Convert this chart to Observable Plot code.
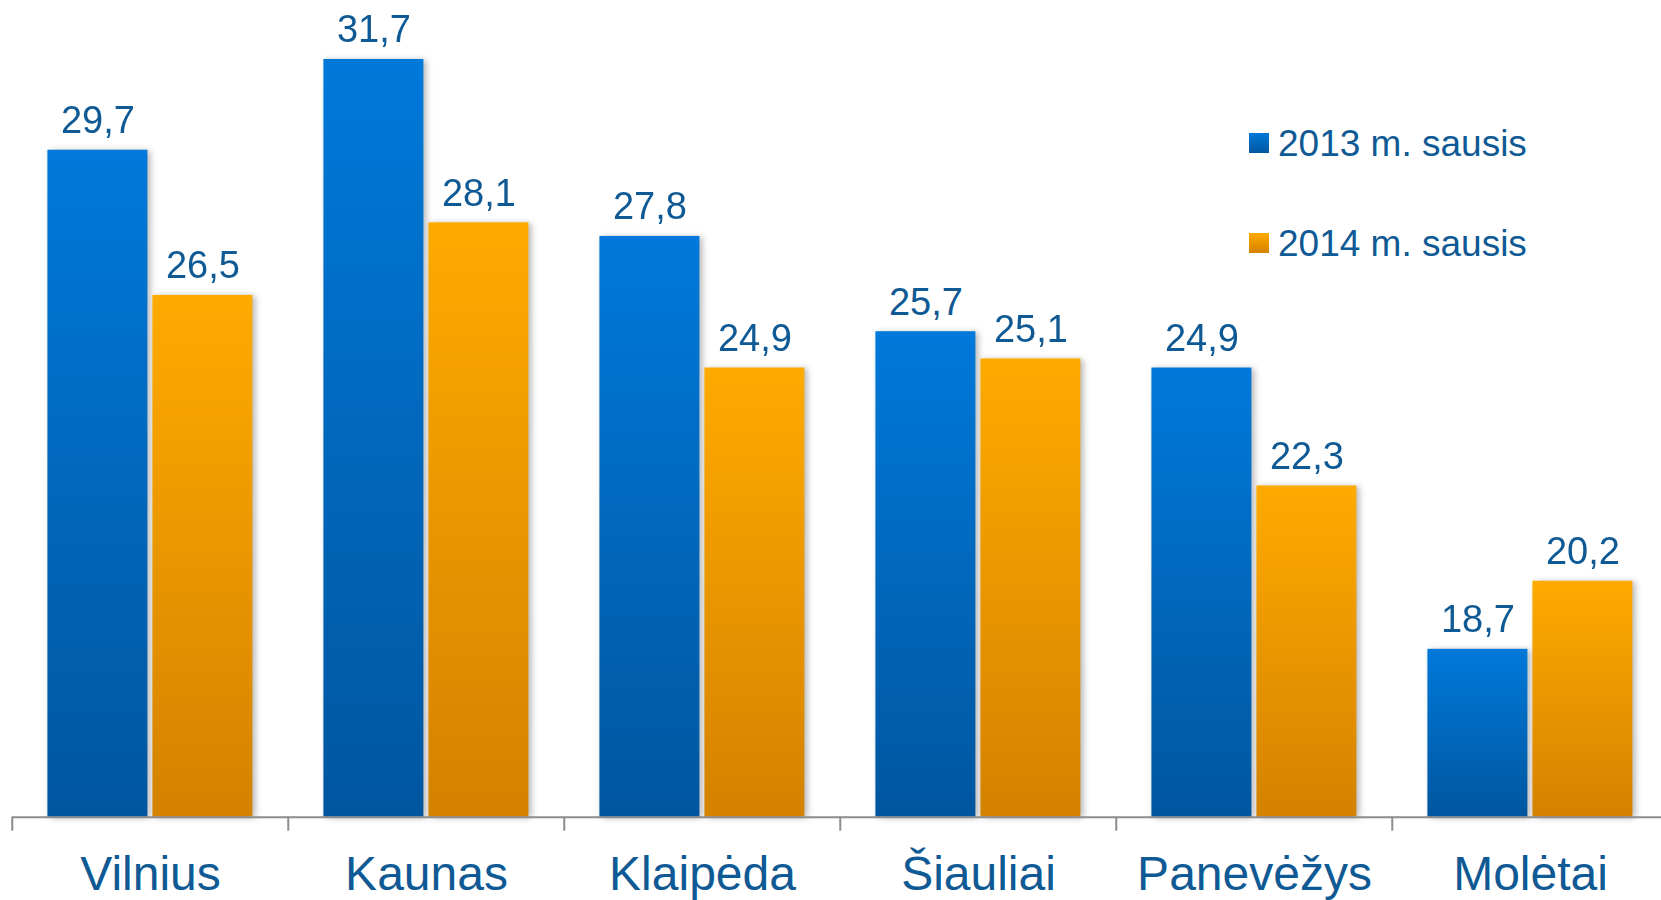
<!DOCTYPE html>
<html>
<head>
<meta charset="utf-8">
<script src="https://cdn.jsdelivr.net/npm/d3@7"></script>
<script src="https://cdn.jsdelivr.net/npm/@observablehq/plot@0.6"></script>
<style>
  html, body { margin: 0; padding: 0; background: #fff; overflow: hidden; }
  #wrap { position: relative; width: 1661px; height: 900px; overflow: hidden; font-family: "Liberation Sans", Arial, sans-serif; }
  #wrap svg { max-width: none !important; display: block; }
  #wrap svg g[aria-label="bar"] { filter: drop-shadow(3px 1px 3px rgba(0,0,0,0.28)); }
  .legend { position: absolute; left: 1249px; top: 0; color: #0f5a94; font-size: 37px; line-height: 1; }
  .legend .row { position: absolute; left: 0; display: flex; align-items: center; white-space: nowrap; }
  .legend .sw { width: 20px; height: 20px; margin-right: 9px; }
</style>
</head>
<body>
<div id="wrap"></div>
<script>
const cities = ["Vilnius", "Kaunas", "Klaipėda", "Šiauliai", "Panevėžys", "Molėtai"];
const years = ["2013 m. sausis", "2014 m. sausis"];
const values2013 = [29.7, 31.7, 27.8, 25.7, 24.9, 18.7];
const values2014 = [26.5, 28.1, 24.9, 25.1, 22.3, 20.2];
const yDomain = [15, 33];

const data = [];
cities.forEach((c, i) => {
  data.push({city: c, year: years[0], value: values2013[i]});
  data.push({city: c, year: years[1], value: values2014[i]});
});

const locale = d3.formatLocale({decimal: ",", thousands: " ", grouping: [3], currency: ["", ""]});
const fmt = locale.format(".1f");
const textColor = "#0f5a94";
const font = "'Liberation Sans', Arial, sans-serif";

const chart = Plot.plot({
  width: 1670,
  height: 900,
  marginLeft: 10.6,
  marginRight: 0,
  marginTop: 0,
  marginBottom: 83.3,
  style: {fontFamily: font, background: "transparent", overflow: "visible", maxWidth: "none"},
  fx: {domain: cities, paddingInner: 0, paddingOuter: 0, label: null, axis: null},
  x: {domain: years, paddingInner: 0.05, paddingOuter: 0.33, axis: null},
  y: {domain: yDomain, axis: null},
  color: {type: "ordinal", domain: years, range: ["url(#gBlue)", "url(#gOrange)"]},
  marks: [
    Plot.barY(data, {fx: "city", x: "year", y1: yDomain[0], y2: "value", fill: "year"}),
    Plot.text(data, {fx: "city", x: "year", y: "value", text: d => fmt(d.value),
      lineAnchor: "bottom", dy: -17, fontSize: 38, fill: textColor}),
    Plot.ruleY([yDomain[0]], {stroke: "#8c8c8c", strokeWidth: 2}),
    Plot.axisFx({anchor: "bottom", tickSize: 14, tickFormat: () => "", dx: -138.25,
      stroke: "#8c8c8c", strokeWidth: 2, tickPadding: 0, label: null}),
    Plot.axisFx({anchor: "bottom", tickSize: 0, tickPadding: 39, fontSize: 48,
      fill: textColor, label: null})
  ]
});

const ns = "http://www.w3.org/2000/svg";
const defs = document.createElementNS(ns, "defs");
function grad(id, top, bottom) {
  const g = document.createElementNS(ns, "linearGradient");
  g.setAttribute("id", id);
  g.setAttribute("x1", "0"); g.setAttribute("y1", "0");
  g.setAttribute("x2", "0"); g.setAttribute("y2", "1");
  [[0, top], [1, bottom]].forEach(([o, c]) => {
    const s = document.createElementNS(ns, "stop");
    s.setAttribute("offset", o);
    s.setAttribute("stop-color", c);
    g.appendChild(s);
  });
  defs.appendChild(g);
}
grad("gBlue", "#0079da", "#01569f");
grad("gOrange", "#ffaa00", "#d48200");
chart.insertBefore(defs, chart.firstChild);

const wrap = document.getElementById("wrap");
wrap.appendChild(chart);

const legend = document.createElement("div");
legend.className = "legend";
const swatches = [["#0079da", "#01569f"], ["#ffaa00", "#d48200"]];
years.forEach((y, i) => {
  const row = document.createElement("div");
  row.className = "row";
  row.style.top = (124.5 + i * 100) + "px";
  const sw = document.createElement("div");
  sw.className = "sw";
  sw.style.background = `linear-gradient(${swatches[i][0]}, ${swatches[i][1]})`;
  const t = document.createElement("span");
  t.textContent = y;
  row.appendChild(sw);
  row.appendChild(t);
  legend.appendChild(row);
});
wrap.appendChild(legend);
</script>
</body>
</html>
